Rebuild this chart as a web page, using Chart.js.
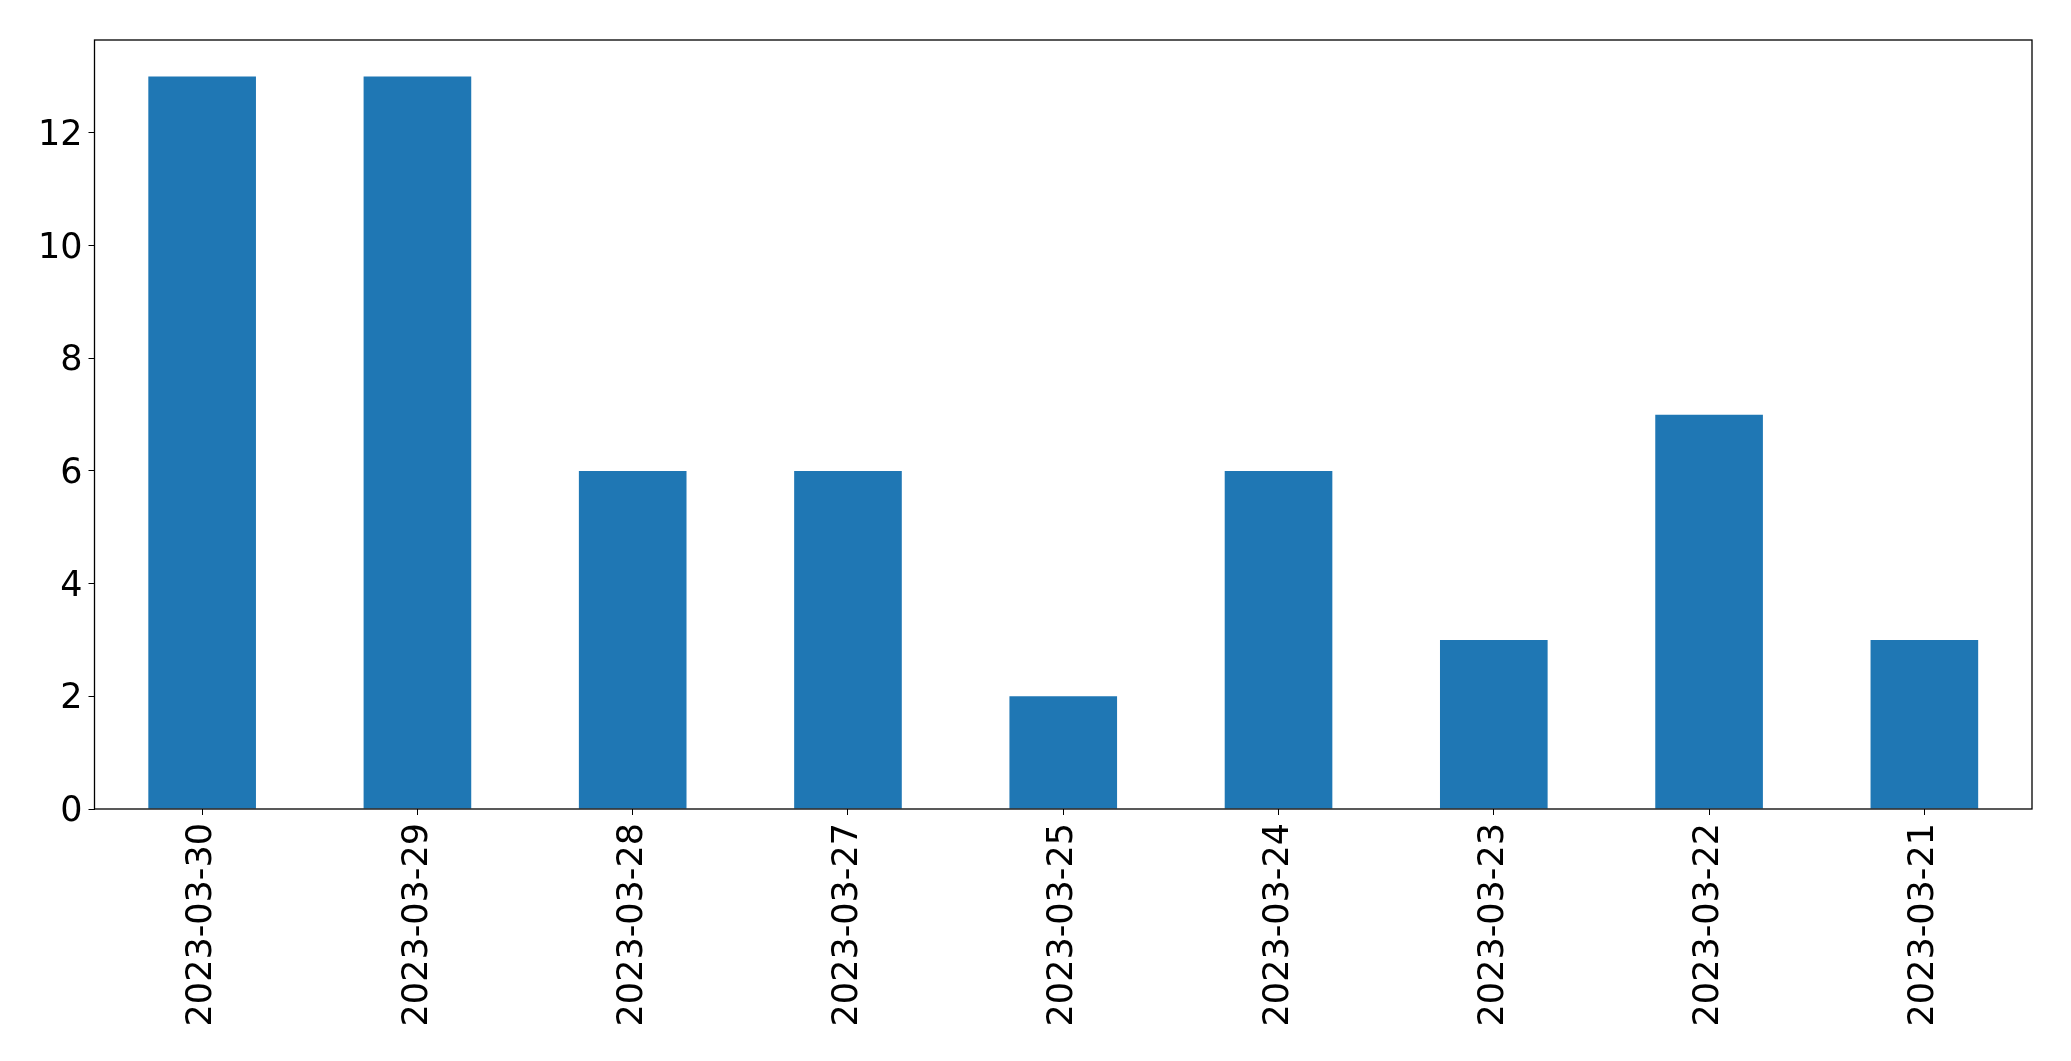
<!DOCTYPE html>
<html>
<head>
<meta charset="utf-8">
<script src="https://cdn.jsdelivr.net/npm/chart.js@4"></script>
<style>
  html, body { margin: 0; padding: 0; background: #fff; }
  #wrap { width: 2071px; height: 1061px; }
</style>
</head>
<body>
<div id="wrap"><canvas id="countChart" width="2071" height="1061"></canvas></div>
<script>
const dates = ['2023-03-30', '2023-03-29', '2023-03-28', '2023-03-27', '2023-03-25',
               '2023-03-24', '2023-03-23', '2023-03-22', '2023-03-21'];
const counts = [13, 13, 6, 6, 2, 6, 3, 7, 3];
const yTicks = [0, 2, 4, 6, 8, 10, 12];

// box round the plot area, like matplotlib spines
const frame = {
  id: 'frame',
  afterDraw(chart) {
    const a = chart.chartArea;
    const c = chart.ctx;
    c.save();
    c.strokeStyle = '#000';
    c.lineWidth = 1.3;
    c.strokeRect(a.left, a.top, a.right - a.left, a.bottom - a.top);
    c.restore();
  }
};

window.onload = () => {
  const ctx = document.getElementById('countChart');
  new Chart(ctx, {
    type: 'bar',
    data: {
      labels: dates,
      datasets: [{
        data: counts,
        backgroundColor: '#1f77b4',
        barPercentage: 0.5,
        categoryPercentage: 1.0
      }]
    },
    options: {
      responsive: false,
      animation: false,
      layout: { padding: { left: 0, right: 39, top: 40, bottom: 0 } },
      plugins: { legend: { display: false }, tooltip: { enabled: false } },
      scales: {
        x: {
          offset: true,
          grid: { display: true, offset: false, drawOnChartArea: false, drawTicks: true, tickLength: 6, color: '#000' },
          border: { display: false },
          ticks: {
            color: '#000',
            maxRotation: 90,
            minRotation: 90,
            padding: 8,
            font: { family: 'DejaVu Sans', size: 35 }
          },
          afterFit: (scale) => { scale.height = 252; }
        },
        y: {
          min: 0,
          max: 13.65,
          grid: { display: true, drawOnChartArea: false, drawTicks: true, tickLength: 6, color: '#000' },
          border: { display: false },
          afterBuildTicks: (scale) => { scale.ticks = yTicks.map(v => ({ value: v })); },
          ticks: {
            color: '#000',
            padding: 6,
            labelOffset: 3,
            font: { family: 'DejaVu Sans', size: 35 }
          },
          afterFit: (scale) => { scale.width = 94.5; }
        }
      }
    },
    plugins: [frame]
  });
};
</script>
</body>
</html>
